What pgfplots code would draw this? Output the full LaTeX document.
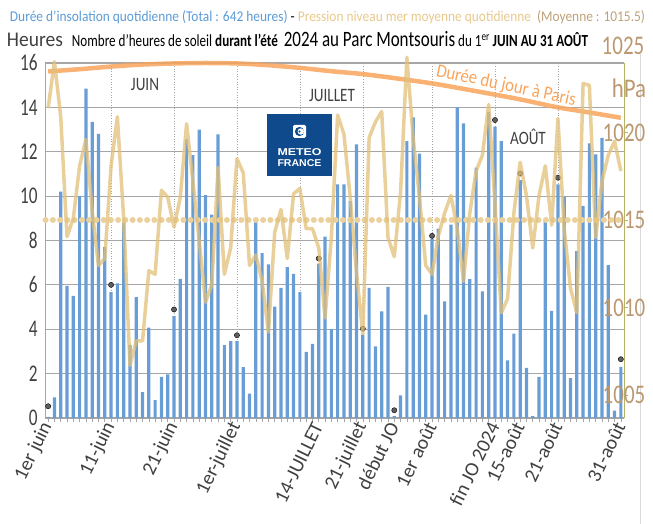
\documentclass[border=0pt]{standalone}
\usepackage{pgfplots}
\pgfplotsset{compat=1.18}
\usepackage{fontspec}
\setmainfont{Carlito}
\newfontfamily\lib{Liberation Sans}
\usepackage{graphicx}
\usetikzlibrary{calc}

\definecolor{barblue}{RGB}{104,157,214}
\definecolor{tanline}{RGB}{226,192,122}
\definecolor{tandot}{RGB}{234,208,155}
\definecolor{orangeday}{RGB}{248,164,92}
\definecolor{brownlab}{RGB}{188,152,112}
\definecolor{textgray}{RGB}{64,64,64}
\definecolor{gridgray}{RGB}{166,166,166}
\definecolor{mfblue}{RGB}{14,74,140}
\definecolor{axolive}{RGB}{180,180,100}
\definecolor{legblue}{RGB}{91,155,213}
\definecolor{legtan}{RGB}{232,200,140}
\definecolor{legbrown}{RGB}{190,160,120}
\definecolor{markgray}{RGB}{95,95,95}

\pgfplotstableread{
day hours
1 0.05
2 0.93
3 10.2
4 5.95
5 5.5
6 10.0
7 14.85
8 13.35
9 12.8
10 7.7
11 5.67
12 6.07
13 8.8
14 3.3
15 5.45
16 1.17
17 4.07
18 0.8
19 1.85
20 1.97
21 4.59
22 6.27
23 12.56
24 11.85
25 13.0
26 10.05
27 9.17
28 12.78
29 3.28
30 3.46
31 3.46
32 2.29
33 1.1
34 8.99
35 7.43
36 6.92
37 5.02
38 5.86
39 6.8
40 6.5
41 5.67
42 2.98
43 3.34
44 6.96
45 8.17
46 4.0
47 10.53
48 10.53
49 9.77
50 12.33
51 3.76
52 5.86
53 3.23
54 4.81
55 5.91
56 0.08
57 1.02
58 12.48
59 13.55
60 11.92
61 4.66
62 8.09
63 8.54
64 5.26
65 8.72
66 14.0
67 13.28
68 6.26
69 11.28
70 5.71
71 13.8
72 13.13
73 12.48
74 2.6
75 3.8
76 10.72
77 2.26
78 0.08
79 1.85
80 8.95
81 4.83
82 10.53
83 9.97
84 1.8
85 7.52
86 9.56
87 12.38
88 11.88
89 12.63
90 6.89
91 0.33
92 2.3
}\sunshine

\pgfplotstableread{
day hpa
1 1021.4
2 1024.05
3 1020.9
4 1014.05
5 1015.1
6 1018.1
7 1019.6
8 1015.5
9 1012.4
10 1012.8
11 1018.1
12 1020.9
13 1015.1
14 1006.7
15 1008.1
16 1008.1
17 1012.1
18 1011.9
19 1016.7
20 1016.3
21 1014.6
22 1016.3
23 1020.5
24 1017.2
25 1013.8
26 1010.3
27 1011.3
28 1018.0
29 1011.9
30 1013.4
31 1018.5
32 1017.7
33 1012.4
34 1013.0
35 1011.5
36 1008.6
37 1014.3
38 1015.6
39 1012.8
40 1016.5
41 1016.8
42 1014.5
43 1014.5
44 1013.4
45 1009.4
46 1014.0
47 1021.0
48 1019.9
49 1016.3
50 1012.0
51 1008.5
52 1019.7
53 1020.6
54 1021.2
55 1014.0
56 1012.9
57 1016.6
58 1024.3
59 1019.7
60 1016.3
61 1012.4
62 1011.9
63 1014.1
64 1015.4
65 1016.4
66 1014.5
67 1011.5
68 1015.4
69 1017.8
70 1018.7
71 1021.6
72 1015.9
73 1009.7
74 1010.5
75 1015.4
76 1018.3
77 1016.4
78 1013.4
79 1016.4
80 1018.1
81 1014.7
82 1020.8
83 1014.5
84 1011.1
85 1009.7
86 1022.8
87 1022.7
88 1014.0
89 1017.2
90 1018.7
91 1019.5
92 1017.8
}\pressure

\begin{document}
\begin{tikzpicture}
\path[use as bounding box] (0,0) rectangle (653bp,524bp);
\draw[gray!30, line width=0.6bp] (640bp,0bp) -- (640bp,470bp);
\begin{axis}[
  at={(45bp,106bp)}, anchor=south west,
  scale only axis, width=579bp, height=355bp,
  xmin=0.5, xmax=92.5, ymin=0, ymax=16,
  axis x line*=bottom, axis y line*=left,
  axis line style={draw=gridgray, line width=0.8bp, -},
  ytick={0,2,...,16},
  ymajorgrids,
  major grid style={draw=gridgray, line width=1.1bp},
  ytick style={draw=none},
  /pgf/number format/assume math mode=true,
  yticklabel style={font=\fontsize{24}{24}\selectfont, text=textgray},
  yticklabel={\scalebox{0.72}[1]{\pgfmathprintnumber{\tick}}},
  xtick={1,11,21,31,44,51,56,62,72,76,82,92},
  xticklabels={1er juin,11-juin,21-juin,1er-juillet,14-JUILLET,21-juillet,début JO,1er août,fin JO 2024,15-août,21-août,31-août},
  xticklabel style={rotate=64, anchor=east, font=\fontsize{20}{20}\selectfont, text=textgray, inner sep=1.5bp},
  minor xtick={1,...,92},
  tick align=outside,
  major tick length=4bp, minor tick length=4bp,
  xtick style={draw=gridgray, line width=0.6bp},
  extra x ticks={11,21,31,41,51,62,72,82},
  extra x tick labels={},
  extra x tick style={grid=major, major grid style={draw=gray!70, dash pattern=on 1bp off 1.6bp, line width=0.6bp}, tick style={draw=none}},
  clip=false,
]
\addplot[ybar, bar width=3.2bp, fill=barblue, draw=none] table[x=day, y=hours] {\sunshine};
\addplot[only marks, mark=*, mark size=2.6bp, mark options={fill=markgray, draw=none}] coordinates {
(1,0.53) (11,6.0) (21,4.89) (31,3.73) (44,7.19) (51,4.03) (56,0.35) (62,8.21) (72,13.43) (76,11.02) (82,10.83) (92,2.65)};
\addplot[orangeday, line width=4.5bp, opacity=0.85, smooth, no markers] coordinates {
(1,15.62) (6,15.72) (11,15.84) (16,15.93) (21,15.98) (26,16.0) (31,15.98) (36,15.9) (41,15.78) (46,15.63) (51,15.5) (56,15.32) (62,15.08) (69,14.73) (76,14.36) (82,14.0) (87,13.77) (92,13.53)};
\end{axis}
\begin{axis}[
  at={(45bp,106bp)}, anchor=south west,
  scale only axis, width=579bp, height=355bp,
  xmin=0.5, xmax=92.5, ymin=1003.686, ymax=1023.971,
  axis x line=none, axis y line*=right,
  axis line style={draw=axolive, line width=0.8bp, -},
  ytick={1005,1010,1015,1020},
  ytick style={draw=axolive, line width=0.8bp},
  tick align=outside, major tick length=4bp,
  /pgf/number format/assume math mode=true,
  /pgf/number format/1000 sep={},
  yticklabel style={anchor=center, font=\fontsize{27}{27}\selectfont, text=brownlab, xshift=-4bp},
  yticklabel={\scalebox{0.78}[1]{\pgfmathprintnumber{\tick}}},
  clip=false,
]
\addplot[tandot, line width=6bp, line cap=round, dash pattern=on 0bp off 7.25bp] coordinates {(0.6,1015) (92.4,1015)};
\addplot[tanline, line width=3.5bp, opacity=0.75, line join=round, no markers] table[x=day, y=hpa] {\pressure};
\end{axis}

% titles
\node[anchor=base, inner sep=0] at (327.5bp,502bp) {\resizebox{635bp}{\height}{\fontsize{15}{15}\selectfont \textcolor{legblue}{Durée d’insolation quotidienne (Total : 642 heures)} - \textcolor{legtan}{Pression niveau mer moyenne quotidienne}\ \ \textcolor{legbrown}{(Moyenne : 1015.5)}}};
\node[anchor=base, inner sep=0, text=textgray] at (35bp,477bp) {\resizebox{56bp}{\height}{\fontsize{21}{21}\selectfont Heures}};
\node[anchor=base, inner sep=0] at (330bp,477bp) {\resizebox{516bp}{\height}{\fontsize{17}{17}\selectfont Nombre d'heures de soleil \textbf{durant l'été}\ \ {\fontsize{22}{22}\selectfont 2024 au Parc Montsouris} du 1\textsuperscript{er} \textbf{JUIN AU 31 AOÛT}}};
% right axis extra labels
\node[text=brownlab, inner sep=0] at (623bp,478bp) {\scalebox{0.78}[1]{\fontsize{27}{27}\selectfont 1025}};
\node[text=brownlab, inner sep=0] at (629bp,436bp) {\scalebox{0.85}[1]{\fontsize{27}{27}\selectfont hPa}};
% months
\node[anchor=base, inner sep=0, text=textgray] at (145bp,433bp) {\scalebox{0.8}[1]{\fontsize{19}{19}\selectfont JUIN}};
\node[anchor=base, inner sep=0, text=textgray] at (332bp,422bp) {\scalebox{0.8}[1]{\fontsize{19}{19}\selectfont JUILLET}};
\node[anchor=base, inner sep=0, text=textgray] at (528bp,379bp) {\scalebox{0.8}[1]{\fontsize{19}{19}\selectfont AOÛT}};
% day length label
\node[text=orangeday, rotate=-12, inner sep=0] at (506bp,438bp) {\resizebox{142bp}{\height}{\fontsize{19}{19}\selectfont Durée du jour à Paris}};
% logo
\node[fill=mfblue, minimum width=65bp, minimum height=62bp, inner sep=0] at (299.5bp,378.5bp) {};
\fill[white, rounded corners=1.5bp] (293bp,386bp) rectangle (306bp,399bp);
\fill[mfblue] (299.5bp,392.5bp) circle (4.6bp);
\fill[white] (300.8bp,392.5bp) circle (3.2bp);
\fill[mfblue] (299.5bp,392.5bp) circle (1.2bp);
\node[text=white, inner sep=0] at (299.5bp,372bp) {\resizebox{44bp}{\height}{\lib\bfseries\fontsize{10}{10}\selectfont METEO}};
\node[text=white, inner sep=0] at (299.5bp,361bp) {\resizebox{44bp}{\height}{\lib\bfseries\fontsize{10}{10}\selectfont FRANCE}};
\end{tikzpicture}
\end{document}
